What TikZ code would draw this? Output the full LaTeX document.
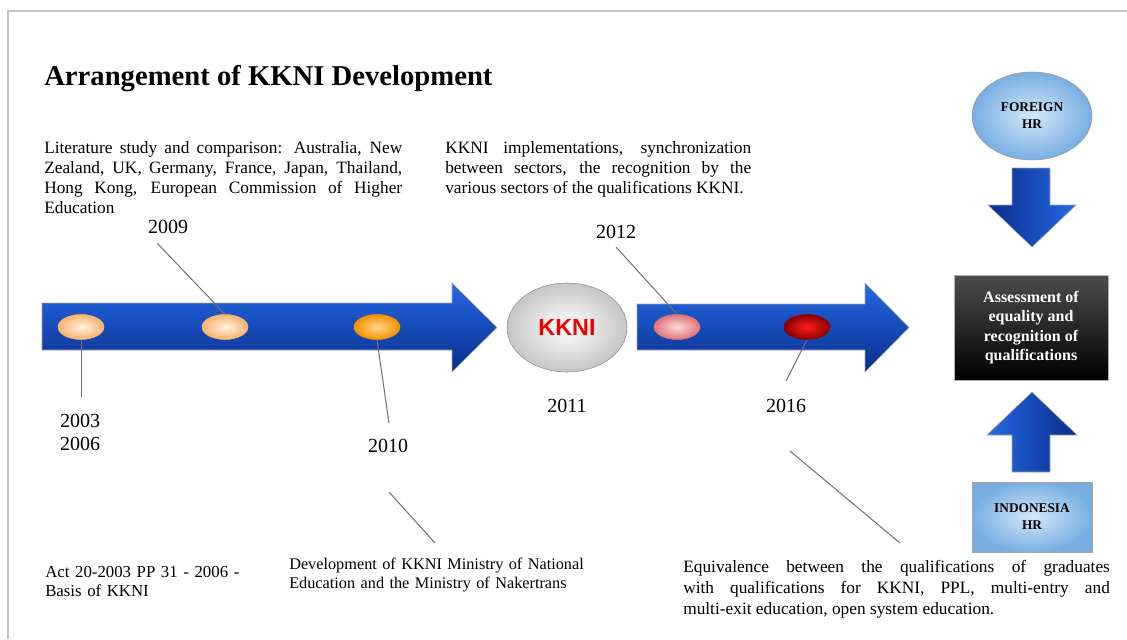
\documentclass[tikz,border=0pt]{standalone}
\usepackage{fontspec}
\setmainfont{Liberation Serif}
\newfontfamily\kknifont{Liberation Sans}
\usepackage{xcolor}
\usepackage{tikz}
\usetikzlibrary{shapes.geometric}
\definecolor{arrlight}{HTML}{2469E3}
\definecolor{arrdark}{HTML}{0A2D8C}
\definecolor{leadgray}{HTML}{707070}
\definecolor{rimgray}{HTML}{C6C6C6}
\definecolor{peachin}{HTML}{FFF2E2}
\definecolor{peachout}{HTML}{F7B36E}
\definecolor{orangein}{HTML}{FFD68A}
\definecolor{orangeout}{HTML}{F39200}
\definecolor{pinkin}{HTML}{FFDADA}
\definecolor{pinkout}{HTML}{DE7479}
\definecolor{redin}{HTML}{FF1C1C}
\definecolor{redout}{HTML}{8C0000}
\definecolor{skyin}{HTML}{D4E8F8}
\definecolor{skyout}{HTML}{78AEE2}
\colorlet{kknired}{red!95!black}
\tikzstyle{rim}=[draw=rimgray,line width=1.5pt]
\tikzstyle{lead}=[draw=leadgray,line width=.75pt]
\tikzstyle{note}=[inner sep=0pt,anchor=base west,font=\fontsize{13}{15}\selectfont]
\tikzstyle{yr}=[inner sep=0pt,font=\fontsize{15}{17.25}\selectfont]
\tikzstyle{dot}=[ellipse,minimum width=34.5pt,minimum height=18.75pt,inner sep=0pt,line width=.4pt]
\tikzstyle{barr}=[draw=gray!70,line width=.4pt]
\tikzstyle{hrlabel}=[inner sep=0pt,align=center,font=\fontsize{10}{12.75}\selectfont\bfseries]

\begin{document}
\begin{tikzpicture}[x=.75pt,y=-.75pt]
	\useasboundingbox (0,0) rectangle (1127,639);
	\draw[rim] (8,639) -- (8,11) -- (1127,11);
	\node[anchor=base west,inner sep=0pt,font=\fontsize{21.5}{26}\selectfont\bfseries] (title) at (44,85) {Arrangement of KKNI Development};
	\node[note,text width=268.5pt,align=justify] (lit) at (44,153)
		{Literature study and comparison: Australia, New\linebreak Zealand, UK, Germany, France, Japan, Thailand,\linebreak Hong Kong, European Commission of Higher\linebreak Education};
	\node[note,text width=229.5pt,align=justify] (impl) at (445,153)
		{KKNI implementations, synchronization\linebreak between sectors, the recognition by the\linebreak various sectors of the qualifications KKNI.};
	\node[note,text width=170pt,align=left,font=\fontsize{12.6}{14.25}\selectfont] (act) at (45,577) {Act 20-2003 PP 31 - 2006 -\\Basis of KKNI};
	\node[note,text width=240pt,align=left,font=\fontsize{12.2}{14.25}\selectfont] (dev) at (289,569)
		{Development of KKNI Ministry of National\\Education and the Ministry of Nakertrans};
	\node[note,text width=320pt,align=justify,font=\fontsize{13}{15.75}\selectfont] (equiv) at (683,572)
		{Equivalence between the qualifications of graduates\linebreak with qualifications for KKNI, PPL, multi-entry and\linebreak multi-exit education, open system education.};

	% timeline arrows
	\shade[barr,top color=arrlight,bottom color=arrdark] (42,303) -- (452,303) -- (452,283) -- (497,327.5) -- (452,372) -- (452,350) -- (42,350) -- cycle;
	\shade[barr,top color=arrlight,bottom color=arrdark] (637,304) -- (865,304) -- (865,283) -- (909,327.5) -- (865,372) -- (865,350) -- (637,350) -- cycle;

	\coordinate (t03) at (81,397);
	\coordinate (t09) at (157,243);
	\coordinate (t10) at (389,423);
	\coordinate (b10) at (389,492);
	\coordinate (d10) at (435,543);
	\coordinate (t12) at (616,247);
	\coordinate (t16) at (786,381);
	\coordinate (b16) at (790,451);
	\coordinate (d16) at (900,543);

	\node[dot,draw=peachout,inner color=peachin,outer color=peachout] (dot03) at (81,327) {};
	\node[dot,draw=peachout,inner color=peachin,outer color=peachout] (dot09) at (225,327) {};
	\node[dot,draw=orangeout,inner color=orangein,outer color=orangeout] (dot10) at (377,327) {};
	\node[dot,draw=pinkout,inner color=pinkin,outer color=pinkout] (dot12) at (677,327) {};
	\node[dot,draw=redout,inner color=redin,outer color=redout] (dot16) at (807,327) {};
	\node[ellipse,draw=gray!90,inner color=white,outer color=gray!45,minimum width=90pt,minimum height=66.75pt,inner sep=0pt,
		text=kknired,font=\kknifont\fontsize{17.5}{20}\selectfont\bfseries] (kkni) at (567,327.5) {KKNI};

	\node[yr,align=center] (yr0306) at (80,432.5) {2003\\2006};
	\node[yr] (yr09) at (168,227) {2009};
	\node[yr] (yr10) at (388,446) {2010};
	\node[yr] (yr11) at (567,406) {2011};
	\node[yr] (yr12) at (616,232) {2012};
	\node[yr] (yr16) at (786,406) {2016};

	\draw[lead] (dot03.south) -- (t03);
	\draw[lead] (t09) -- (dot09.north);
	\draw[lead] (dot10.south) -- (t10);
	\draw[lead] (b10) -- (d10);
	\draw[lead] (t12) -- (dot12.north);
	\draw[lead] (dot16.south) -- (t16);
	\draw[lead] (b16) -- (d16);

	% recognition column
	\node[ellipse,draw=gray!80,inner color=skyin,outer color=skyout,minimum width=90pt,minimum height=66pt,hrlabel] (fhr) at (1032,116) {FOREIGN\\HR};
	\node[draw=gray!60,top color=black!70,bottom color=black,minimum width=115.5pt,minimum height=78.75pt,inner sep=0pt,
		align=center,text=white,font=\fontsize{12}{14.5}\selectfont\bfseries] (assess) at (1031,327.5)
		{Assessment of\\equality and\\recognition of\\qualifications};
	\node[draw=gray!70,inner color=skyin,outer color=skyout,minimum width=90pt,minimum height=52.5pt,hrlabel] (idhr) at (1032,517) {INDONESIA\\HR};
	\shade[barr,left color=arrdark,right color=arrlight] (1012,168) -- (1050,168) -- (1050,205) -- (1076,205) -- (1032,247) -- (988,205) -- (1012,205) -- cycle;
	\shade[barr,left color=arrlight,right color=arrdark] (1012,472) -- (1050,472) -- (1050,435) -- (1077,435) -- (1032,392) -- (987,435) -- (1012,435) -- cycle;
\end{tikzpicture}
\end{document}
